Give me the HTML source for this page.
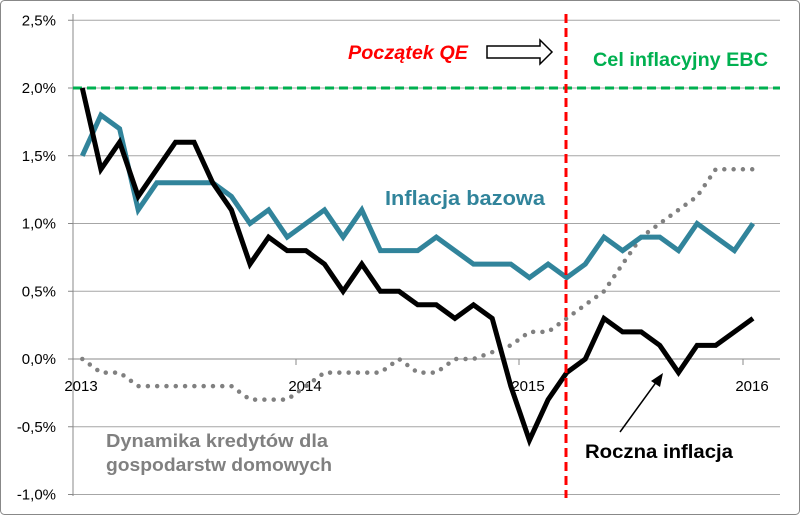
<!DOCTYPE html>
<html><head><meta charset="utf-8"><style>
html,body{margin:0;padding:0;background:#fff}
svg{display:block;font-family:"Liberation Sans",sans-serif}
</style></head><body>
<svg id="s" width="800" height="515" viewBox="0 0 800 515" xmlns="http://www.w3.org/2000/svg">
<rect x="0.5" y="0.5" width="799" height="514" rx="4" fill="#fff" stroke="#888"/>
<g id="grid" stroke="#a6a6a6" stroke-width="1"></g>
<line x1="73" y1="14" x2="73" y2="496" stroke="#888"/>
<line x1="73" y1="359" x2="780" y2="359" stroke="#888"/>
<g id="ticks" stroke="#888"></g>
<g font-size="15" fill="#000" text-anchor="end" id="ylab"></g>
<g font-size="15" fill="#000" text-anchor="middle">
<text x="81" y="391">2013</text><text x="305" y="391">2014</text><text x="528" y="391">2015</text><text x="752" y="391">2016</text>
</g>
<line x1="73" y1="88" x2="780" y2="88" stroke="#00b050" stroke-width="3" stroke-dasharray="9,5"/>
<polyline id="gray" fill="none" stroke="#808080" stroke-width="4.5" stroke-dasharray="0,9.3" stroke-linecap="round"/>
<polyline id="teal" fill="none" stroke="#31849b" stroke-width="5" stroke-linejoin="miter"/>
<polyline id="black" fill="none" stroke="#000" stroke-width="5" stroke-linejoin="miter"/>
<line x1="566" y1="14" x2="566" y2="498" stroke="#ff0000" stroke-width="3" stroke-dasharray="9,5"/>
<text x="348" y="59" font-size="19" font-weight="bold" font-style="italic" fill="#ff0000" textLength="120" lengthAdjust="spacingAndGlyphs">Początek QE</text>
<polygon points="487,46 540,46 540,40 552,52 540,64 540,58 487,58" fill="#fff" stroke="#000" stroke-width="1.5"/>
<text x="593" y="66" font-size="19" font-weight="bold" fill="#00b050" textLength="175" lengthAdjust="spacingAndGlyphs">Cel inflacyjny EBC</text>
<text x="385" y="205" font-size="20" font-weight="bold" fill="#31849b" textLength="160" lengthAdjust="spacingAndGlyphs">Inflacja bazowa</text>
<text x="106" y="447" font-size="18" font-weight="bold" fill="#808080" textLength="222" lengthAdjust="spacingAndGlyphs">Dynamika kredytów dla</text>
<text x="106" y="471" font-size="18" font-weight="bold" fill="#808080" textLength="226" lengthAdjust="spacingAndGlyphs">gospodarstw domowych</text>
<text x="585" y="458" font-size="19" font-weight="bold" fill="#000" textLength="148" lengthAdjust="spacingAndGlyphs">Roczna inflacja</text>
<line x1="620" y1="432" x2="657" y2="381" stroke="#000" stroke-width="1.5"/>
<polygon points="663,373 651,381 660,387" fill="#000"/>
</svg>
<script>
var NS="http://www.w3.org/2000/svg";
function Y(v){return 359-v*135.5;}
function X(i){return 73+18.63*(i+0.5);}
var g=document.getElementById('grid'),yl=document.getElementById('ylab');
var labs=["2,5%","2,0%","1,5%","1,0%","0,5%","0,0%","-0,5%","-1,0%"];
for(var k=0;k<8;k++){var v=2.5-0.5*k,y=Y(v);
 if(v!==0){var l=document.createElementNS(NS,'line');l.setAttribute('x1',73);l.setAttribute('x2',780);l.setAttribute('y1',y);l.setAttribute('y2',y);g.appendChild(l);}
 var t=document.createElementNS(NS,'text');t.setAttribute('x',56);t.setAttribute('y',y+5);t.textContent=labs[k];yl.appendChild(t);
 var tk=document.createElementNS(NS,'line');tk.setAttribute('x1',68);tk.setAttribute('x2',73);tk.setAttribute('y1',y);tk.setAttribute('y2',y);tk.setAttribute('stroke','#888');g.appendChild(tk);}
var tg=document.getElementById('ticks');
[296,519,743].forEach(function(x){var l=document.createElementNS(NS,'line');l.setAttribute('x1',x);l.setAttribute('x2',x);l.setAttribute('y1',359);l.setAttribute('y2',365);tg.appendChild(l);});
function pts(a){return a.map(function(v,i){return X(i).toFixed(1)+","+Y(v).toFixed(1);}).join(" ");}
var black=[2.0,1.4,1.6,1.2,1.4,1.6,1.6,1.3,1.1,0.7,0.9,0.8, 0.8,0.7,0.5,0.7,0.5,0.5,0.4,0.4,0.3,0.4,0.3,-0.2, -0.6,-0.3,-0.1,0.0,0.3,0.2,0.2,0.1,-0.1,0.1,0.1,0.2, 0.3];
var teal=[1.5,1.8,1.7,1.1,1.3,1.3,1.3,1.3,1.2,1.0,1.1,0.9, 1.0,1.1,0.9,1.1,0.8,0.8,0.8,0.9,0.8,0.7,0.7,0.7, 0.6,0.7,0.6,0.7,0.9,0.8,0.9,0.9,0.8,1.0,0.9,0.8, 1.0];
var gray=[0.0,-0.1,-0.1,-0.2,-0.2,-0.2,-0.2,-0.2,-0.2,-0.3,-0.3,-0.3, -0.2,-0.1,-0.1,-0.1,-0.1,0.0,-0.1,-0.1,0.0,0.0,0.05,0.1, 0.2,0.2,0.3,0.4,0.5,0.7,0.9,1.0,1.1,1.2,1.4,1.4, 1.4];
document.getElementById('black').setAttribute('points',pts(black));
document.getElementById('teal').setAttribute('points',pts(teal));
document.getElementById('gray').setAttribute('points',pts(gray));
</script>
</body></html>
